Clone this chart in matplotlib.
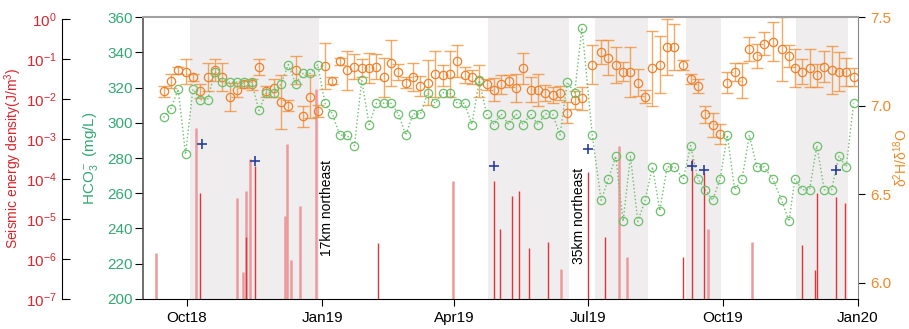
import numpy as np
import matplotlib
matplotlib.use('Agg')
import matplotlib.pyplot as plt
from matplotlib.ticker import FixedLocator, LogFormatterMathtext, NullLocator

plt.rcParams['font.family'] = ['Liberation Sans', 'DejaVu Sans']
plt.rcParams['mathtext.fontset'] = 'custom'
plt.rcParams['mathtext.rm'] = 'Liberation Sans'
plt.rcParams['mathtext.it'] = 'Liberation Sans:italic'
plt.rcParams['mathtext.bf'] = 'Liberation Sans:bold'

# day offsets from 2018-09-01
start = np.datetime64('2018-09-01')

sample_days = [14, 19, 24, 29, 34, 39, 44, 49, 54, 59, 64, 69, 74, 79, 84, 89, 94, 99, 104, 109,
               114, 119, 124, 129, 134, 139, 144, 149, 154, 159, 164, 169, 174, 179, 184, 189,
               194, 199, 204, 209, 214, 219, 224, 229, 234, 239, 244, 249, 254, 259, 264, 269,
               274, 279, 284, 289, 294, 299,
               306, 312, 317, 322, 327, 332, 337, 342, 347, 352, 357, 362, 368, 373, 378, 383,
               388, 393, 398, 403, 408, 413, 418, 423, 429, 435, 440, 444, 449, 454, 459, 464,
               469, 474, 479, 484]

hco3 = [303, 308, 319, 282, 319, 313, 313, 329, 323, 323, 323, 323, 323, 307, 317, 317, 322, 333,
        322, 328, 328, 333,
        311, 305, 293, 293, 287, 324, 299, 311, 311, 311, 305, 293, 305, 305, 317, 311, 317, 317,
        311, 311, 299, 324, 305, 299, 305,
        299, 305, 299, 305, 299, 305, 305, 293, 323, 317, 354,
        293, 256, 268, 281, 244, 281, 244, 256, 275, 250, 275, 275, 268, 287, 268, 262, 256, 268,
        293, 262, 268, 293, 275, 275, 268, 256, 244, 268, 262, 262, 287, 262, 262, 281, 275, 311]

ratio = [7.08, 7.14, 7.20, 7.19, 7.16, 7.08, 7.16, 7.20, 7.16, 7.05, 7.09, 7.12, 7.12, 7.22, 7.08,
         7.10, 7.02, 7.00, 7.20, 6.94, 7.05, 6.97,
         7.225, 7.14, 7.25, 7.20, 7.22, 7.21, 7.21, 7.22, 7.16, 7.24, 7.19, 7.13, 7.16, 7.11, 7.13,
         7.18, 7.17, 7.18, 7.25, 7.17, 7.16, 7.14, 7.12, 7.09, 7.12,
         7.14, 7.10, 7.21, 7.09, 7.09, 7.07, 7.06, 7.07, 6.96, 7.03, 7.04,
         7.23, 7.30, 7.27, 7.23, 7.19, 7.19, 7.13, 7.05, 7.21, 7.23, 7.33, 7.33, 7.23, 7.15, 7.11,
         6.95, 6.89, 6.84, 7.13, 7.19, 7.14, 7.32, 7.28, 7.35, 7.36, 7.32, 7.28, 7.21, 7.19, 7.21,
         7.17, 7.22, 7.20, 7.19, 7.19, 7.16]

ratio_err = [0.03, 0.04, 0.02, 0.07, 0.02, 0.04, 0.08, 0.06, 0.08, 0.08, 0.04, 0.02, 0.03, 0.045,
             0.03, 0.05, 0.15, 0.03, 0.08, 0.06, 0.12, 0.035,
             0.13, 0.02, 0.02, 0.11, 0.07, 0.05, 0.085, 0.07, 0.11, 0.13, 0.045, 0.03, 0.08, 0.055,
             0.125, 0.13, 0.06, 0.13, 0.09, 0.045, 0.04, 0.09, 0.03, 0.065, 0.055,
             0.035, 0.08, 0.087, 0.07, 0.09, 0.045, 0.045, 0.04, 0.06, 0.05, 0.065,
             0.11, 0.068, 0.1, 0.1, 0.054, 0.14, 0.076, 0.036, 0.21, 0.16, 0.157, 0.13, 0.027,
             0.03, 0.04, 0.05, 0.07, 0.055, 0.06, 0.05, 0.1, 0.068, 0.07, 0.066, 0.11, 0.18, 0.06,
             0.108, 0.07, 0.108, 0.065, 0.087, 0.137, 0.11, 0.08, 0.05]

# seismic energy density (J/m3), two groups of events
quake_days_far = [9, 36, 64, 68, 70, 73, 97, 98, 101, 107, 118, 211, 285, 324, 330, 385, 415]
quake_energy_far = [1.4e-6, 1.9e-3, 3.3e-5, 4.7e-7, 5e-5, 3.2e-4, 1.2e-5, 7.4e-4, 9.3e-7, 2.1e-5,
                    1.8e-2, 8.9e-5, 5.5e-7, 6.6e-4, 1.1e-6, 5.5e-6, 2.6e-6]
quake_days_near = [39, 70, 76, 160, 239, 243, 251, 256, 263, 276, 303, 315, 368, 374, 382, 449,
                   458, 459, 472, 478]
quake_energy_near = [4.4e-5, 3.6e-6, 2.1e-4, 2.5e-6, 8.9e-5, 5.5e-6, 3.8e-5, 5e-5, 1.9e-6,
                     2.7e-6, 1.5e-4, 3.5e-6, 1.1e-6, 3.2e-4, 1.4e-4, 2.3e-6, 5.2e-7, 4.6e-5,
                     3.6e-5, 2.6e-5]

marked_days = [40, 76, 239, 303, 374, 382, 472]
marked_level = [287.8, 278.3, 275.6, 285.1, 275.6, 273.2, 273.2]

wet_periods = [('2018-10-03', '2018-12-30'), ('2019-04-24', '2019-06-18'),
               ('2019-07-06', '2019-08-11'), ('2019-09-06', '2019-09-30'),
               ('2019-11-20', '2019-12-25')]

energy_ticks = [1e-7, 1e-6, 1e-5, 1e-4, 1e-3, 1e-2, 1e-1, 1e0]
tick_dates = ['2018-10-01', '2019-01-01', '2019-04-01', '2019-07-01', '2019-10-01', '2020-01-01']
tick_labels = ['Oct18', 'Jan19', 'Apr19', 'Jul19', 'Oct19', 'Jan20']


def to_date(days):
    return start + np.array(days, dtype='timedelta64[D]')


red = '#D9262C'
green = '#34A974'
orange = '#F08A28'

fig = plt.figure(figsize=(9.09, 3.29), dpi=100)
rect = [0.1573, 0.0912, 0.7866, 0.8571]
ax_s = fig.add_axes(rect)
ax_r = fig.add_axes(rect, sharex=ax_s)
ax_h = fig.add_axes(rect, sharex=ax_s)
ax_r.patch.set_visible(False)
ax_h.patch.set_visible(False)

# seismic axis
for a, b in wet_periods:
    ax_s.axvspan(np.datetime64(a), np.datetime64(b), color='#EFEDEE', lw=0, zorder=0)
ax_s.vlines(to_date(quake_days_far), 1e-7, quake_energy_far, color='#EC9A9C', lw=1.8)
ax_s.vlines(to_date(quake_days_near), 1e-7, quake_energy_near, color='#E2353A', lw=1.0)
ax_s.set_yscale('log')
ax_s.set_ylim(1e-7, 10 ** 0.06)
ax_s.yaxis.set_major_locator(FixedLocator(energy_ticks))
ax_s.yaxis.set_major_formatter(LogFormatterMathtext())
ax_s.yaxis.set_minor_locator(NullLocator())
for side in ['top', 'right', 'bottom']:
    ax_s.spines[side].set_visible(False)
ax_s.spines['left'].set_position(('axes', -0.113))
ax_s.spines['left'].set_bounds(1e-7, 1)
ax_s.tick_params(axis='y', direction='in', length=6, pad=4, labelsize=11, labelcolor=red)
ax_s.tick_params(axis='x', bottom=False, labelbottom=False)
ax_s.set_ylabel('Seismic energy density(J/m$^3$)', color=red, fontsize=10)
ax_s.yaxis.set_label_coords(-0.166, 0.5)

# isotope ratio axis
ax_r.errorbar(to_date(sample_days), ratio, yerr=ratio_err, fmt='none', ecolor='#F28A30',
              elinewidth=1.0, capsize=4.5, capthick=1.0, alpha=0.75)
ax_r.plot(to_date(sample_days), ratio, 'o', mfc='none', mec='#F0802A', ms=6, mew=0.9)
ax_r.set_ylim(5.907, 7.5)
ax_r.set_yticks([6.0, 6.5, 7.0, 7.5])
ax_r.set_yticklabels(['6.0', '6.5', '7.0', '7.5'])
ax_r.yaxis.tick_right()
ax_r.yaxis.set_label_position('right')
for side in ['top', 'left', 'bottom']:
    ax_r.spines[side].set_visible(False)
ax_r.spines['right'].set_color('#888888')
ax_r.tick_params(axis='y', direction='out', length=5, labelsize=11, labelcolor=orange)
ax_r.tick_params(axis='x', bottom=False, labelbottom=False)
ax_r.set_ylabel(r'δ$^2$H/δ$^{18}$O', color=orange, fontsize=10)
ax_r.yaxis.set_label_coords(1.047, 0.5)

# HCO3 axis
ax_h.plot(to_date(sample_days), hco3, ls=':', color='#6CC06C', lw=1, marker='o', mfc='none',
          ms=6, mew=0.9)
ax_h.plot(to_date(marked_days), marked_level, '+', color='#2B3F9A', ms=7, mew=1.2)
ax_h.text(np.datetime64('2019-01-04'), 251.6, '17km northeast', rotation=90, ha='center',
          va='center', fontsize=10)
ax_h.text(np.datetime64('2019-06-25'), 247.4, '35km northeast', rotation=90, ha='center',
          va='center', fontsize=10)
ax_h.set_ylim(200, 360)
ax_h.set_yticks(range(200, 361, 20))
ax_h.set_xlim(start, np.datetime64('2020-01-01'))
ax_h.set_xticks([np.datetime64(d) for d in tick_dates])
ax_h.set_xticklabels(tick_labels)
ax_h.spines['right'].set_visible(False)
ax_h.spines['top'].set_color('#A0A0A0')
ax_h.spines['top'].set_linewidth(1.5)
ax_h.spines['left'].set_color('#555555')
ax_h.spines['left'].set_linewidth(1.2)
ax_h.tick_params(axis='y', direction='out', length=5.5, pad=2, labelsize=11, labelcolor=green)
ax_h.tick_params(axis='x', direction='out', length=5, labelsize=11)
ax_h.set_ylabel(r'HCO$_3^-$ (mg/L)', color=green, fontsize=11)
ax_h.yaxis.set_label_coords(-0.060, 0.5)

fig.savefig('out.png', dpi=100)
